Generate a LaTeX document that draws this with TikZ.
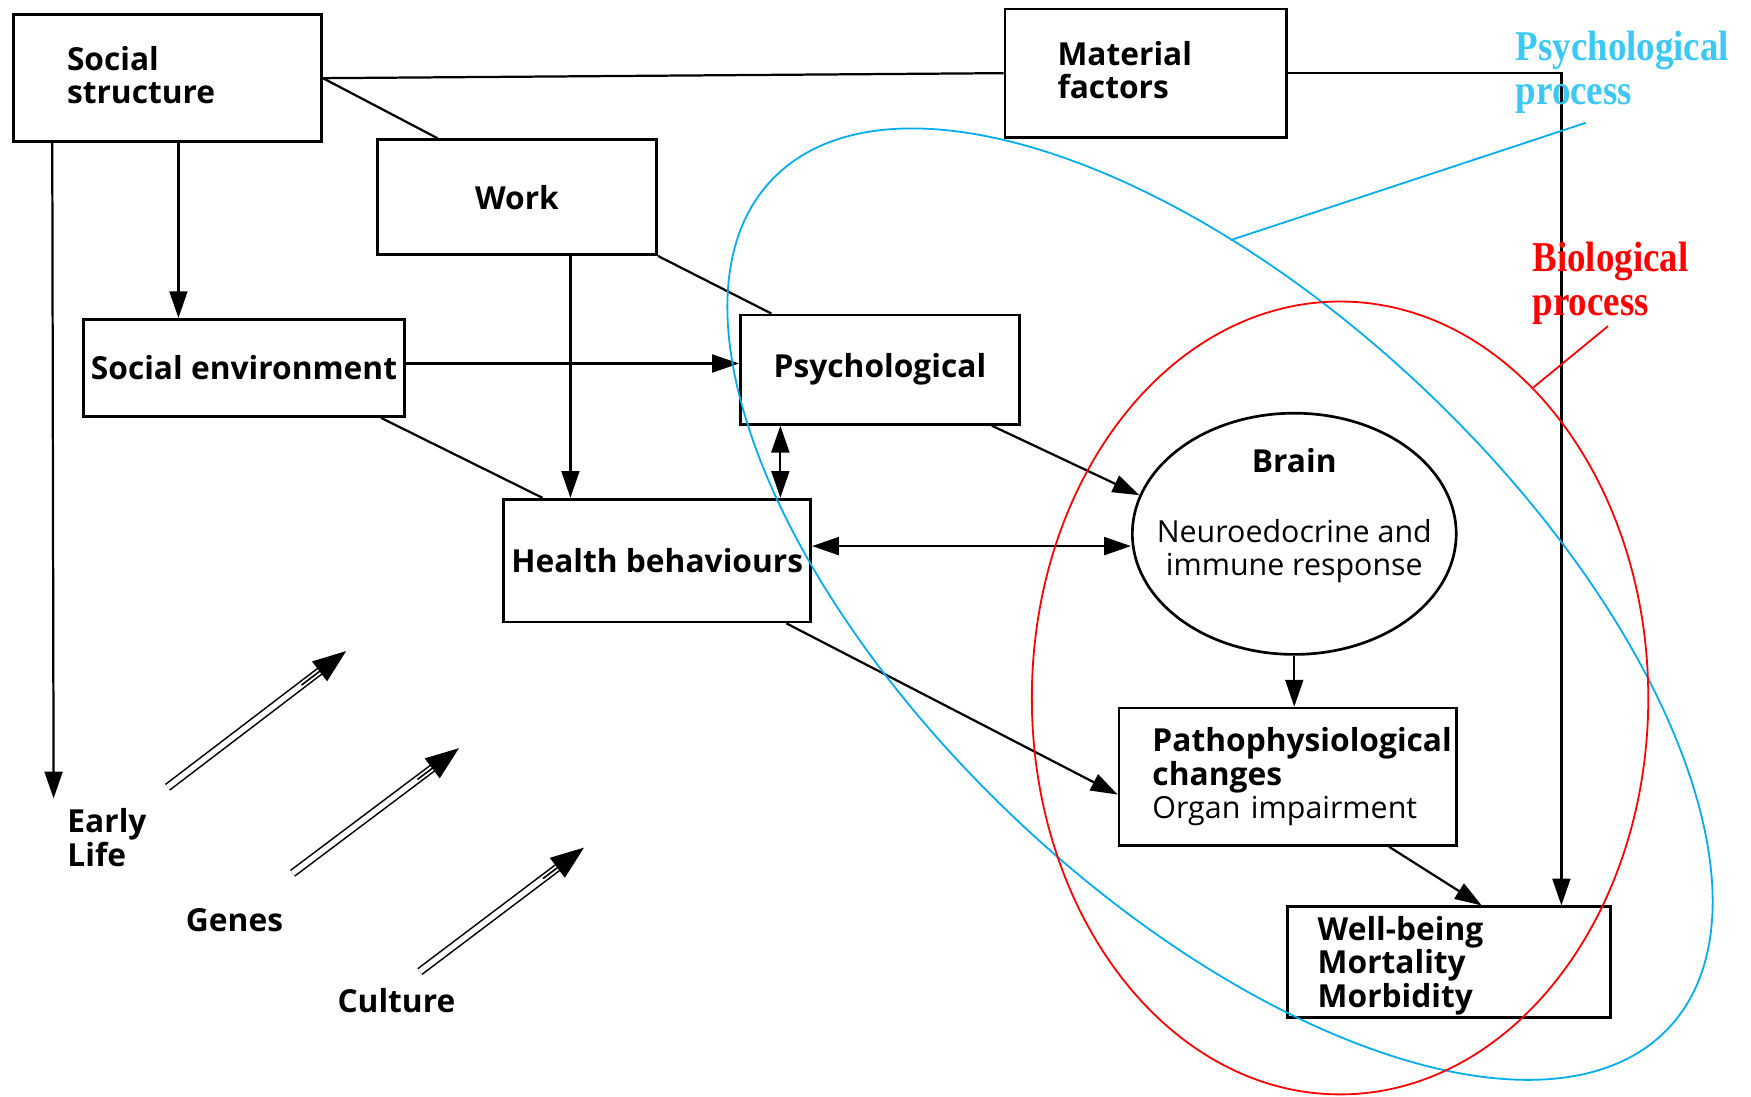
\documentclass[tikz,border=0pt]{standalone}
\usepackage{fontspec}
\setmainfont{Open Sans}
\newfontfamily\seriflbl{Liberation Serif}
\usetikzlibrary{arrows.meta,shapes.geometric,calc}
\newcommand\diagfont{\fontsize{14.2}{15}\selectfont}
\newcommand\diagreg{\fontsize{13.6}{15}\selectfont}
\definecolor{psyblue}{RGB}{0,172,236}
\definecolor{psytext}{RGB}{60,200,245}
\definecolor{biored}{RGB}{255,0,0}
\tikzset{
  box/.style={draw, line width=1.2pt, rectangle, inner sep=0pt, font=\diagfont\bfseries, align=center},
  lbl/.style={font=\diagfont\bfseries, inner sep=0pt},
  conn/.style={line width=1pt},
  arr/.style={conn, -{Triangle[length=12pt,width=8pt]}},
  darr/.style={conn, {Triangle[length=12pt,width=8pt]}-{Triangle[length=12pt,width=8pt]}},
  dblshaft/.style={line width=0.7pt, double distance=2.4pt, shorten >=12pt},
  dbltip/.style={line width=0.7pt, -{Triangle[length=15pt,width=11pt]}},
  proclbl/.style={font=\seriflbl\bfseries\fontsize{19}{20}\selectfont, inner sep=0pt, anchor=north west, align=left, xscale=0.87, transform shape}
}
\begin{document}
\begin{tikzpicture}[x=0.5pt,y=-0.5pt]
\useasboundingbox (0,0) rectangle (1568,982);
% boxes
\node[box, minimum width=138pt, minimum height=57pt, text width=90pt, inner xsep=24pt, align=left] (ss) at (150,70) {Social\\structure\rule[-3pt]{0pt}{3pt}};
\node[box, minimum width=126pt, minimum height=57.5pt, text width=79pt, inner xsep=23.5pt, align=left] (mf) at (1026,65.5) {Material\\factors\rule[-3pt]{0pt}{3pt}};
\node[box, minimum width=125pt, minimum height=51.5pt] (work) at (463,176.5) {Work};
\node[box, minimum width=143.5pt, minimum height=43.5pt] (se) at (218.5,329.5) {Social environment};
\node[box, minimum width=125pt, minimum height=49pt] (psy) at (788,331) {Psychological};
\node[box, minimum width=137.5pt, minimum height=55pt] (hb) at (588.5,502) {Health behaviours};
\node[draw, ellipse, line width=1.2pt, minimum width=145pt, minimum height=108pt, inner sep=0pt] (brain) at (1159,478) {};
\node[align=center, font=\diagreg, inner sep=0pt] (brainlbl) at (1159,462) {{\diagfont\bfseries Brain}\\[16pt]Neuroedocrine and\\immune response};
\node[box, minimum width=151pt, minimum height=61.5pt, text width=121pt, inner xsep=15pt, align=left] (patho) at (1153,695.5) {Pathophysiological\\changes\\{\diagreg\mdseries Organ impairment}};
\node[box, minimum width=144.5pt, minimum height=49.5pt, text width=117.5pt, inner xsep=13.5pt, align=left] (wb) at (1297.5,861.5) {\rule{0pt}{14pt}Well-being\\Mortality\\Morbidity};
% free labels
\node[lbl, align=left, anchor=west] (early) at (60,750) {Early\\Life};
\node[lbl] (genes) at (210,824) {Genes};
\node[lbl] (culture) at (355,896) {Culture};
% connectors
\draw[conn] (ss.east) -- (mf.west);
\draw[arr] (mf.east) -| ([xshift=-22.5pt]wb.north east);
\draw[conn] (ss.east) -- ([xshift=27.5pt]work.north west);
\coordinate (elend) at (48,715);
\draw[arr] ([xshift=18pt]ss.south west) -- (elend);
\draw[arr] ([xshift=74.5pt]ss.south west) -- ([xshift=74.5pt]ss.south west |- se.north);
\draw[arr] ([xshift=87pt]work.south west) -- ([xshift=87pt]work.south west |- hb.north);
\draw[conn] (work.south east) -- ([xshift=14.5pt]psy.north west);
\draw[arr] ([yshift=2pt]se.east) -- ([yshift=2pt]se.east -| psy.west);
\draw[conn] ([xshift=-11pt]se.south east) -- ([xshift=18pt]hb.north west);
\draw[darr] ([xshift=18.5pt]psy.south west) -- ([xshift=18.5pt]psy.south west |- hb.north);
\draw[arr] ([xshift=-13pt]psy.south east) -- (brain.166);
\draw[darr] ([yshift=6.5pt]hb.east) -- ([yshift=6.5pt]hb.east -| brain.west);
\draw[arr] ([xshift=-11.5pt]hb.south east) -- ([yshift=-8pt]patho.west);
\draw[arr] (brain.south) -- (brain.south |- patho.north);
\draw[arr] ([xshift=121.5pt]patho.south west) -- ([xshift=87.5pt]wb.north west);
% double-shaft arrows
\coordinate (g1a) at (150,705); \coordinate (g1b) at (310,583);
\coordinate (g2a) at (262,782); \coordinate (g2b) at (411,670);
\coordinate (g3a) at (376,870); \coordinate (g3b) at (523,759);
\foreach \a/\b in {g1a/g1b, g2a/g2b, g3a/g3b}{
  \draw[dblshaft] (\a) -- (\b);
  \draw[dbltip] ($(\a)!0.75!(\b)$) -- (\b);
}
% process ellipses
\draw[psyblue, line width=0.8pt, rotate around={-43.4:(1092.5,541)}] (1092.5,541) ellipse [x radius=552.7, y radius=265.5];
\draw[biored, line width=0.8pt] (1200,625) ellipse [x radius=276, y radius=355];
% process labels
\node[proclbl, text=psytext] (psyproc) at (1357,27) {Psychological\\process};
\node[proclbl, text=biored] (bioproc) at (1372,216) {Biological\\process};
\coordinate (pp1) at (1420,110); \coordinate (pp2) at (1102,215);
\coordinate (bp1) at (1440,292); \coordinate (bp2) at (1373,347);
\draw[psyblue, line width=0.8pt] (pp1) -- (pp2);
\draw[biored, line width=0.8pt] (bp1) -- (bp2);
\end{tikzpicture}
\end{document}
